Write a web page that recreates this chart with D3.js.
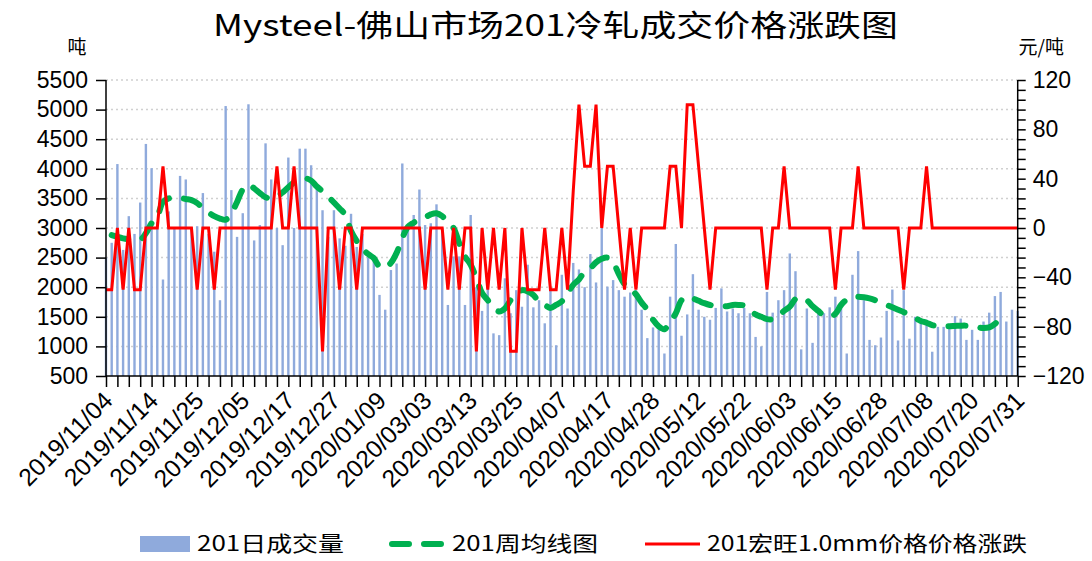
<!DOCTYPE html>
<html>
<head>
<meta charset="utf-8">
<script src="https://cdn.jsdelivr.net/npm/d3@7"></script>
<style>
  body { margin: 0; background: #fff; }
  svg { display: block; }
  .cjk { font-family: "Noto Sans CJK SC", sans-serif; }
  .num { font-family: "Liberation Sans", Arial, sans-serif; }
</style>
</head>
<body>
<div id="chart"></div>
<script>
// trading days on the category axis
var dates = [
  "2019/11/04","2019/11/05","2019/11/06","2019/11/07","2019/11/08","2019/11/11","2019/11/12","2019/11/13",
  "2019/11/14","2019/11/15","2019/11/18","2019/11/19","2019/11/20","2019/11/21","2019/11/22","2019/11/23",
  "2019/11/25","2019/11/26","2019/11/27","2019/11/28","2019/11/29","2019/12/02","2019/12/03","2019/12/04",
  "2019/12/05","2019/12/06","2019/12/09","2019/12/10","2019/12/11","2019/12/12","2019/12/13","2019/12/16",
  "2019/12/17","2019/12/18","2019/12/19","2019/12/20","2019/12/23","2019/12/24","2019/12/25","2019/12/26",
  "2019/12/27","2019/12/30","2019/12/31","2020/01/02","2020/01/03","2020/01/06","2020/01/07","2020/01/08",
  "2020/01/09","2020/01/10","2020/01/13","2020/01/14","2020/01/15","2020/01/16","2020/01/17","2020/03/02",
  "2020/03/03","2020/03/04","2020/03/05","2020/03/06","2020/03/09","2020/03/10","2020/03/11","2020/03/12",
  "2020/03/13","2020/03/16","2020/03/17","2020/03/18","2020/03/19","2020/03/20","2020/03/23","2020/03/24",
  "2020/03/25","2020/03/26","2020/03/27","2020/03/30","2020/03/31","2020/04/01","2020/04/02","2020/04/03",
  "2020/04/07","2020/04/08","2020/04/09","2020/04/10","2020/04/13","2020/04/14","2020/04/15","2020/04/16",
  "2020/04/17","2020/04/20","2020/04/21","2020/04/22","2020/04/23","2020/04/24","2020/04/26","2020/04/27",
  "2020/04/28","2020/04/29","2020/04/30","2020/05/06","2020/05/07","2020/05/08","2020/05/09","2020/05/11",
  "2020/05/12","2020/05/13","2020/05/14","2020/05/15","2020/05/18","2020/05/19","2020/05/20","2020/05/21",
  "2020/05/22","2020/05/25","2020/05/26","2020/05/27","2020/05/28","2020/05/29","2020/06/01","2020/06/02",
  "2020/06/03","2020/06/04","2020/06/05","2020/06/08","2020/06/09","2020/06/10","2020/06/11","2020/06/12",
  "2020/06/15","2020/06/16","2020/06/17","2020/06/18","2020/06/19","2020/06/22","2020/06/23","2020/06/24",
  "2020/06/28","2020/06/29","2020/06/30","2020/07/01","2020/07/02","2020/07/03","2020/07/06","2020/07/07",
  "2020/07/08","2020/07/09","2020/07/10","2020/07/13","2020/07/14","2020/07/15","2020/07/16","2020/07/17",
  "2020/07/20","2020/07/21","2020/07/22","2020/07/23","2020/07/27","2020/07/28","2020/07/29","2020/07/30",
  "2020/07/31"
];

var labelDates = ["2019/11/04","2019/11/14","2019/11/25","2019/12/05","2019/12/17","2019/12/27","2020/01/09",
  "2020/03/03","2020/03/13","2020/03/25","2020/04/07","2020/04/17","2020/04/28","2020/05/12","2020/05/22",
  "2020/06/03","2020/06/15","2020/06/28","2020/07/08","2020/07/20","2020/07/31"];

// 201 daily volume (吨)
var volume = [
  2500,2750,4080,2630,3200,2900,3430,4420,4010,3100,2130,3280,3000,3880,3820,3000,
  3030,3590,2900,2600,1780,5060,3640,2850,3250,5090,2790,3050,4430,3820,3000,2710,
  4190,3000,4340,4340,4060,3670,3300,2850,3300,2825,2700,3240,2680,2900,2520,2500,
  1870,1620,2290,2400,4090,2980,3220,3650,3050,3080,3400,3000,1700,2520,2520,1700,
  3220,2000,1600,2100,1220,1190,2150,1560,1950,1670,2380,1660,1780,1390,1980,1020,
  2210,1640,2410,2300,2000,2560,2080,3000,2010,2120,1950,1840,1910,1950,1620,1140,
  1320,1390,880,1840,2730,1180,1540,2220,1620,1500,1450,1650,1980,1590,1640,1560,
  1650,1560,1160,1000,1920,1570,1780,1950,2570,2270,950,1640,1060,1560,1560,1660,
  1840,1640,880,2210,2610,1780,1110,1020,1150,1600,1960,1100,1950,1130,1500,1450,
  1450,910,1330,1330,1360,1510,1470,1110,1280,1110,1420,1570,1850,1920,1420,1620,
  1600
];

// 201 weekly average (吨)
var weekly = [
  null,2880,2850,2825,2810,2800,2800,2910,3080,3190,3440,3500,3510,3510,3490,3470,
  3420,3330,3260,3200,3160,3140,3250,3440,3650,3730,3670,3590,3520,3500,3540,3600,
  3690,3770,3820,3840,3800,3700,3620,3530,3430,3330,3220,2950,2780,2650,2560,2490,
  2350,2330,2410,2580,2830,3020,3090,3150,3180,3230,3250,3200,3100,3000,2740,2520,
  2380,2150,1900,1780,1660,1590,1640,1780,1900,1950,1930,1870,1750,1700,1650,1700,
  1760,1900,2040,2130,2260,2320,2420,2480,2500,2420,2220,2050,1970,1880,1740,1620,
  1450,1340,1290,1420,1560,1780,1840,1810,1770,1730,1700,1685,1680,1680,1700,1700,
  1690,1620,1540,1500,1460,1460,1520,1600,1670,1800,1820,1780,1680,1600,1520,1500,
  1550,1700,1790,1830,1840,1830,1810,1780,1740,1700,1660,1620,1580,1520,1480,1430,
  1400,1360,1340,1340,1340,1345,1350,1350,1335,1320,1310,1320,1380,1480,1560,null,
  null
];

// 201 宏旺1.0mm price change (元/吨)
var priceChange = [
  -50,-50,0,-50,0,-50,-50,0,0,0,50,0,0,0,0,0,
  -50,0,0,-50,0,0,0,0,0,0,0,0,0,0,50,0,
  0,50,0,0,0,0,-100,0,0,-50,0,0,-50,0,0,0,
  0,0,0,0,0,0,0,0,-50,0,0,0,-50,0,-50,0,
  0,-100,0,-50,0,-50,0,-100,-100,0,-50,-50,-50,0,-50,-50,
  0,-50,30,100,50,50,100,0,50,50,0,-50,0,-50,0,0,
  0,0,0,50,50,0,100,100,50,0,-50,0,0,0,0,0,
  0,0,0,0,-50,0,0,50,0,0,0,0,0,0,0,0,
  -50,0,0,0,50,0,0,0,0,0,0,0,-50,0,0,0,
  50,0,0,0,0,0,0,0,0,0,0,0,0,0,0,0,
  0
];

var leftTicks = [500,1000,1500,2000,2500,3000,3500,4000,4500,5000,5500];
var rightTicks = [-120,-80,-40,0,40,80,120];

var W = 1092, H = 561;
var plot = { left: 106, right: 1017.7, top: 80, bottom: 376 };

var svg = d3.select("#chart").append("svg")
    .attr("width", W)
    .attr("height", H);

var x = d3.scalePoint()
    .domain(dates)
    .range([plot.left, plot.right]);

var yL = d3.scaleLinear().domain([500, 5500]).range([plot.bottom, plot.top]);
var yR = d3.scaleLinear().domain([-120, 120]).range([plot.bottom, plot.top]);

// title
svg.append("text")
    .attr("class", "cjk")
    .attr("x", 213).attr("y", 36)
    .attr("textLength", 685).attr("lengthAdjust", "spacingAndGlyphs")
    .style("font-size", "30px")
    .text("Mysteel-佛山市场201冷轧成交价格涨跌图");

svg.append("text").attr("class", "cjk")
    .attr("x", 77).attr("y", 54).attr("text-anchor", "middle")
    .style("font-size", "19px").text("吨");
svg.append("text").attr("class", "cjk")
    .attr("x", 1064).attr("y", 54).attr("text-anchor", "end")
    .style("font-size", "19px").text("元/吨");

// dotted grid
svg.append("g").selectAll("line")
    .data(leftTicks.slice(1))
    .enter().append("line")
    .attr("x1", plot.left).attr("x2", plot.right)
    .attr("y1", function(d){ return yL(d); })
    .attr("y2", function(d){ return yL(d); })
    .style("stroke", "#d0d0d0")
    .style("stroke-width", 1.5)
    .style("stroke-dasharray", "2,3");

// bars
svg.append("g").selectAll("rect")
    .data(volume)
    .enter().append("rect")
    .attr("x", function(d, i){ return x(dates[i]) - 1.2; })
    .attr("y", function(d){ return yL(d); })
    .attr("width", 2.4)
    .attr("height", function(d){ return yL(500) - yL(d); })
    .style("fill", "#8faadc");

// weekly average, smoothed dashed green
var greenLine = d3.line()
    .defined(function(d){ return d != null; })
    .x(function(d, i){ return x(dates[i]); })
    .y(function(d){ return yL(d); })
    .curve(d3.curveCatmullRom);

svg.append("path")
    .datum(weekly)
    .attr("d", greenLine)
    .style("fill", "none")
    .style("stroke", "#00b050")
    .style("stroke-width", 6)
    .style("stroke-linecap", "round")
    .style("stroke-dasharray", "17,15");

// price change, red
var redLine = d3.line()
    .x(function(d, i){ return x(dates[i]); })
    .y(function(d){ return yR(d); });

svg.append("path")
    .datum(priceChange)
    .attr("d", redLine)
    .style("fill", "none")
    .style("stroke", "#ff0000")
    .style("stroke-width", 3)
    .style("stroke-linejoin", "miter");

// left axis
var gL = svg.append("g")
    .attr("transform", "translate(" + plot.left + ",0)")
    .call(d3.axisLeft(yL).tickValues(leftTicks).tickSize(10).tickPadding(8).tickFormat(d3.format("d")));
gL.selectAll("text").attr("class", "num").style("font-size", "23px").style("fill", "#000");
gL.selectAll("line, path").style("stroke", "#000").style("stroke-width", 1.5);
gL.select(".domain").attr("d", "M0," + plot.bottom + "V" + plot.top);

// right axis
var gR = svg.append("g")
    .attr("transform", "translate(" + plot.right + ",0)")
    .call(d3.axisRight(yR).tickValues(d3.range(-120, 121, 8)).tickSize(8).tickPadding(7)
        .tickFormat(function(d){ return rightTicks.indexOf(d) >= 0 ? d3.format("d")(d).replace("-", "−") : ""; }));
gR.selectAll("text").attr("class", "num").style("font-size", "23px").style("fill", "#000");
gR.selectAll("line, path").style("stroke", "#000").style("stroke-width", 1.5);
gR.select(".domain").attr("d", "M0," + plot.bottom + "V" + plot.top);

// bottom axis: ticks every 2 categories
var gB = svg.append("g")
    .attr("transform", "translate(0," + plot.bottom + ")")
    .call(d3.axisBottom(x)
        .tickValues(dates.filter(function(d, i){ return i % 2 === 0; }))
        .tickSize(11)
        .tickFormat(""));
gB.selectAll("line, path").style("stroke", "#000").style("stroke-width", 1.5);
gB.select(".domain").attr("d", "M" + plot.left + ",0H" + plot.right);

svg.append("g").selectAll("text")
    .data(labelDates)
    .enter().append("text")
    .attr("class", "num")
    .attr("text-anchor", "end")
    .attr("transform", function(d){ return "translate(" + (x(d) + 2) + "," + (plot.bottom + 20) + ") rotate(-45)"; })
    .attr("dy", "0.35em")
    .style("font-size", "24.5px")
    .text(function(d){ return d; });

// legend
var leg = svg.append("g");
var ly = 544;
leg.append("rect").attr("x", 140).attr("y", ly - 8).attr("width", 50).attr("height", 16).style("fill", "#8faadc");
leg.append("text").attr("class", "cjk").attr("x", 197).attr("y", ly + 7)
    .attr("textLength", 147).attr("lengthAdjust", "spacingAndGlyphs")
    .style("font-size", "21px").text("201日成交量");
leg.append("line").attr("x1", 392).attr("x2", 442).attr("y1", ly).attr("y2", ly)
    .style("stroke", "#00b050").style("stroke-width", 6).style("stroke-linecap", "round")
    .style("stroke-dasharray", "17,15");
leg.append("text").attr("class", "cjk").attr("x", 452).attr("y", ly + 7)
    .attr("textLength", 146).attr("lengthAdjust", "spacingAndGlyphs")
    .style("font-size", "21px").text("201周均线图");
leg.append("line").attr("x1", 645).attr("x2", 700).attr("y1", ly).attr("y2", ly)
    .style("stroke", "#ff0000").style("stroke-width", 3);
leg.append("text").attr("class", "cjk").attr("x", 707).attr("y", ly + 7)
    .attr("textLength", 320).attr("lengthAdjust", "spacingAndGlyphs")
    .style("font-size", "21px").text("201宏旺1.0mm价格价格涨跌");
</script>
</body>
</html>
